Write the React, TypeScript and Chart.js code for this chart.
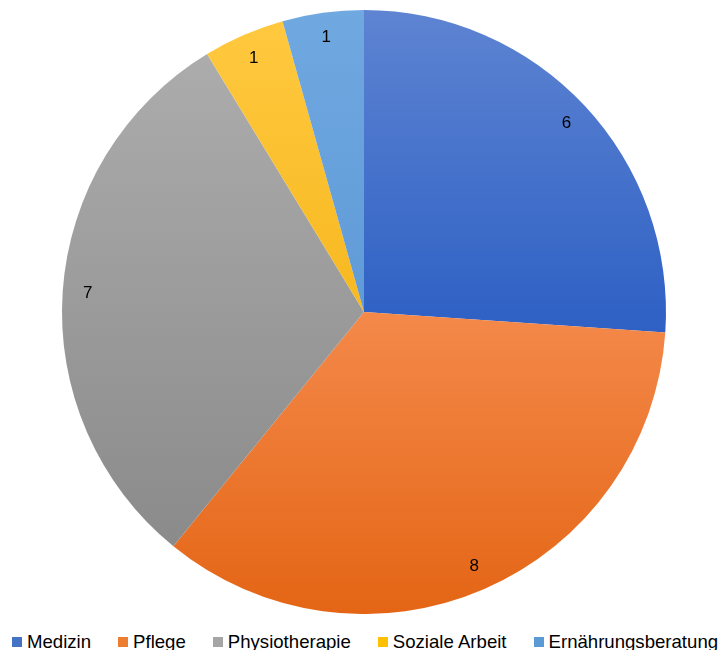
import React, { useEffect, useRef } from "react";
import { Chart, registerables } from "chart.js";

Chart.register(...registerables);

const categories = ["Medizin", "Pflege", "Physiotherapie", "Soziale Arbeit", "Ernährungsberatung"];
const values = [6, 8, 7, 1, 1];
const legendColors = ["#4472C4", "#ED7D31", "#A5A5A5", "#FFC000", "#5B9BD5"];
const gradientStops: [number, string][][] = [
  [[0, "#5E84D2"], [0.5, "#3062C5"], [1, "#2050BC"]],
  [[0, "#F8A070"], [0.5, "#F4894A"], [1, "#E46515"]],
  [[0, "#AFAFAF"], [1, "#868686"]],
  [[0, "#FFC940"], [1, "#F0A800"]],
  [[0, "#70A8E0"], [1, "#4F8ED0"]],
];

const labelPlugin = {
  id: "sliceLabels",
  afterDatasetsDraw(chart: any) {
    const ctx = chart.ctx;
    const meta = chart.getDatasetMeta(0);
    ctx.save();
    ctx.font = '17px "Liberation Sans", Arial, sans-serif';
    ctx.fillStyle = "#000";
    ctx.textAlign = "center";
    ctx.textBaseline = "middle";
    meta.data.forEach((arc: any, i: number) => {
      const p = arc.getProps(["x", "y", "startAngle", "endAngle", "outerRadius"], true);
      const a = (p.startAngle + p.endAngle) / 2;
      const r = p.outerRadius * 0.917;
      ctx.fillText(String(chart.data.datasets[0].data[i]), p.x + Math.cos(a) * r, p.y + Math.sin(a) * r);
    });
    ctx.restore();
  },
};

export default function App() {
  const ref = useRef<HTMLCanvasElement>(null);
  useEffect(() => {
    if (!ref.current) return;
    const chart = new Chart(ref.current, {
      type: "pie",
      data: {
        labels: categories,
        datasets: [
          {
            data: values,
            borderWidth: 0,
            backgroundColor: (c: any) => {
              const ch = c.chart;
              const area = ch.chartArea;
              const stops = gradientStops[c.dataIndex] || [[0, "#888"], [1, "#888"]];
              if (!area) return stops[0][1];
              const g = ch.ctx.createLinearGradient(0, area.top, 0, area.bottom);
              stops.forEach(([o, col]) => g.addColorStop(o, col));
              return g;
            },
          },
        ],
      },
      options: {
        animation: false,
        responsive: true,
        maintainAspectRatio: false,
        layout: { padding: { top: 2, left: 2, right: 0, bottom: 0 } },
        plugins: { legend: { display: false }, tooltip: { enabled: false } },
      },
      plugins: [labelPlugin],
    });
    return () => chart.destroy();
  }, []);

  return (
    <div style={{ position: "relative", width: 710, height: 642 }}>
      <div style={{ position: "absolute", left: 0, top: 0, width: 710, height: 606 }}>
        <canvas ref={ref} />
      </div>
      <div
        style={{
          position: "absolute",
          left: 4,
          top: 624,
          display: "flex",
          gap: 27,
          fontFamily: '"Liberation Sans", Arial, sans-serif',
          fontSize: 18.6,
          lineHeight: "20px",
          color: "#000",
          whiteSpace: "nowrap",
        }}
      >
        {categories.map((c, i) => (
          <div key={c} style={{ display: "flex", alignItems: "center" }}>
            <span style={{ display: "inline-block", width: 10, height: 10, background: legendColors[i], marginRight: 5 }} />
            <span>{c}</span>
          </div>
        ))}
      </div>
    </div>
  );
}
